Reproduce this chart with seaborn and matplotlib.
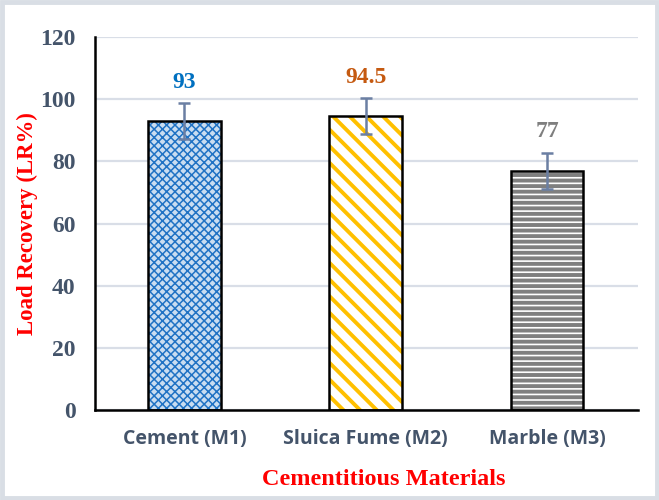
import pandas as pd
import seaborn as sns
import matplotlib.pyplot as plt
from matplotlib.patches import Rectangle

materials = ["Cement (M1)", "Sluica Fume (M2)", "Marble (M3)"]
load_recovery = [93, 94.5, 77]
error = [5.8, 5.8, 5.8]
value_labels = ["93", "94.5", "77"]

hatch_colors = ["#1F72C4", "#FFC000", "#7F7F7F"]
face_colors = ["#C9DDF1", "white", "white"]
hatches = ["xxxx", "\\\\", "---"]
label_colors = ["#0070C0", "#C55A11", "#7F7F7F"]

df = pd.DataFrame({"material": materials, "lr": load_recovery})

sns.set_style("white")
plt.rcParams["hatch.linewidth"] = 2.8

fig = plt.figure(figsize=(6.59, 5.0), dpi=100)
ax = fig.add_axes([0.144, 0.18, 0.824, 0.746])

# hatched fill first, then black outline on top
sns.barplot(data=df, x="material", y="lr", color="white", width=0.4,
            errorbar=None, linewidth=0, ax=ax, zorder=2)
for bar, h, c, f in zip(ax.patches, hatches, hatch_colors, face_colors):
    bar.set_hatch(h)
    bar.set_edgecolor(c)
    bar.set_facecolor(f)
    if h.startswith("x") and hasattr(bar, "set_hatch_linewidth"):
        bar.set_hatch_linewidth(1.1)

n = len(ax.patches)
sns.barplot(data=df, x="material", y="lr", fill=False, width=0.4,
            errorbar=None, edgecolor="black", linewidth=1.8, ax=ax, zorder=3)
for bar in ax.patches[n:]:
    bar.set_edgecolor("black")

ax.errorbar(x=list(range(len(materials))), y=load_recovery, yerr=error,
            fmt="none", ecolor="#6B7FA3", elinewidth=1.8, capsize=4.5,
            capthick=1.8, zorder=4)

for i, (v, e, t, c) in enumerate(zip(load_recovery, error, value_labels, label_colors)):
    ax.annotate(t, (i, v + e), xytext=(0, 11), textcoords="offset points",
                ha="center", va="baseline", color=c, fontsize=17,
                fontweight="bold", family="Liberation Serif")

ax.set_ylim(0, 120)
ax.set_xlim(-0.493, 2.5)
ax.set_yticks(range(0, 121, 20))
ax.yaxis.grid(True, color="#D9DEE7", linewidth=1.6)
ax.set_axisbelow(True)

for s in ["top", "right"]:
    ax.spines[s].set_visible(False)
ax.spines["left"].set_color("black")
ax.spines["left"].set_linewidth(1.8)
ax.spines["bottom"].set_color("black")
ax.spines["bottom"].set_linewidth(1.8)
ax.tick_params(axis="y", length=0, pad=14)
ax.tick_params(axis="x", length=0, pad=14)

for lab in ax.get_yticklabels():
    lab.set_family("Liberation Serif")
    lab.set_fontweight("bold")
    lab.set_fontsize(17)
    lab.set_color("#44546A")
for lab in ax.get_xticklabels():
    lab.set_family("Open Sans")
    lab.set_fontweight("bold")
    lab.set_fontsize(14)
    lab.set_color("#44546A")

ax.set_xlabel("Cementitious Materials", color="red", fontsize=17.5,
              fontweight="bold", family="Liberation Serif")
ax.set_ylabel("Load Recovery (LR%)", color="red", fontsize=16.5,
              fontweight="bold", family="Liberation Serif")
ax.xaxis.set_label_coords(0.532, -0.158)
ax.yaxis.set_label_coords(-0.125, 0.5)
ax.yaxis.label.set_va("center")

fig.patches.append(Rectangle((0.003, 0.004), 0.994, 0.992, transform=fig.transFigure,
                             fill=False, edgecolor="#D9DEE5", linewidth=3.5))

fig.savefig("out.png", dpi=100)
